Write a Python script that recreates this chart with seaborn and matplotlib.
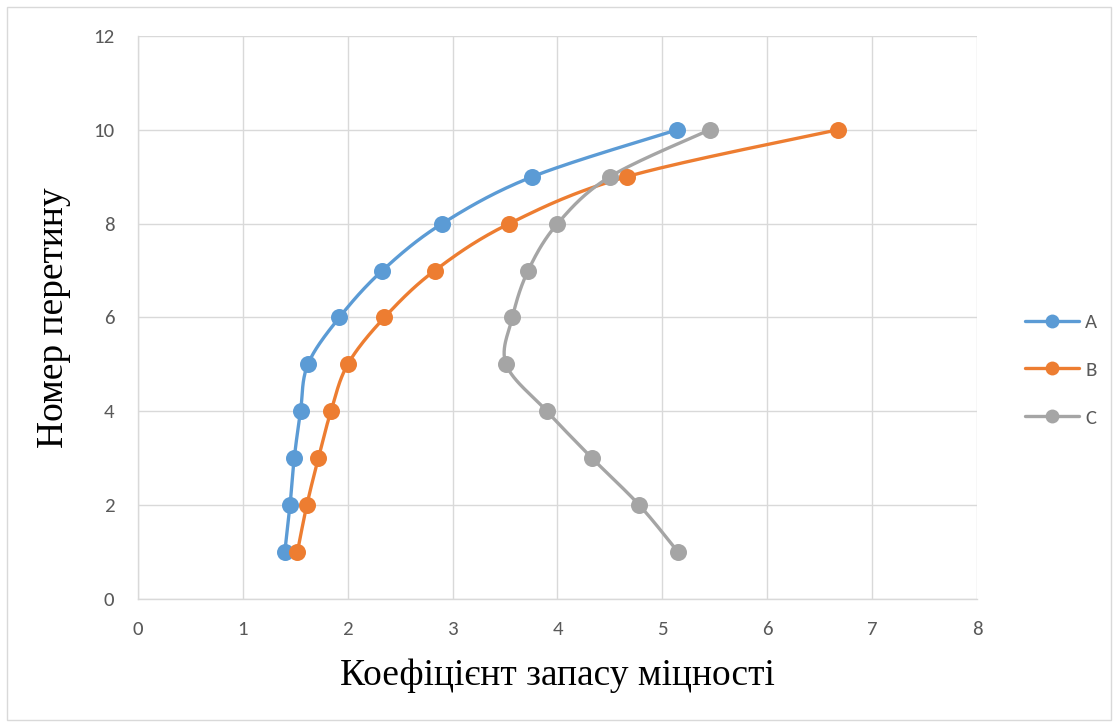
import numpy as np
import pandas as pd
import matplotlib
matplotlib.use("Agg")
import matplotlib.pyplot as plt
from matplotlib.lines import Line2D
from matplotlib.patches import Rectangle
import seaborn as sns

# Section numbers and safety factors per variant
sections = [1, 2, 3, 4, 5, 6, 7, 8, 9, 10]
factor_a = [1.40, 1.45, 1.49, 1.55, 1.62, 1.92, 2.33, 2.90, 3.76, 5.14]
factor_b = [1.52, 1.61, 1.72, 1.84, 2.00, 2.35, 2.83, 3.54, 4.66, 6.67]
factor_c = [5.15, 4.78, 4.33, 3.90, 3.51, 3.57, 3.72, 4.00, 4.50, 5.45]
series_names = ["A", "B", "C"]
colors = ["#5B9BD5", "#ED7D31", "#A5A5A5"]

x_ticks = [0, 1, 2, 3, 4, 5, 6, 7, 8]
y_ticks = [0, 2, 4, 6, 8, 10, 12]


def smooth_path(x, y, n=30, tension=0.5):
    """Catmull-Rom style smoothing through every point (like a smoothed line chart)."""
    x = np.asarray(x, float)
    y = np.asarray(y, float)
    px = np.concatenate([[x[0]], x, [x[-1]]])
    py = np.concatenate([[y[0]], y, [y[-1]]])
    xs, ys = [], []
    for i in range(1, len(px) - 2):
        p0 = np.array([px[i - 1], py[i - 1]])
        p1 = np.array([px[i], py[i]])
        p2 = np.array([px[i + 1], py[i + 1]])
        p3 = np.array([px[i + 2], py[i + 2]])
        c1 = p1 + (p2 - p0) * tension / 3
        c2 = p2 - (p3 - p1) * tension / 3
        t = np.linspace(0, 1, n)[:, None]
        b = ((1 - t) ** 3) * p1 + 3 * ((1 - t) ** 2) * t * c1 + 3 * (1 - t) * t ** 2 * c2 + t ** 3 * p2
        xs.append(b[:, 0])
        ys.append(b[:, 1])
    return np.concatenate(xs), np.concatenate(ys)


sns.set_theme(style="white")
plt.rcParams["font.family"] = ["Carlito", "Open Sans", "DejaVu Sans"]

fig = plt.figure(figsize=(11.18, 7.24), dpi=100)
fig.patches.append(Rectangle((0.006, 0.006), 0.988, 0.985, transform=fig.transFigure,
                             fill=False, edgecolor="#D9D9D9", linewidth=1.0))
ax = fig.add_axes([0.1234, 0.1727, 0.7505, 0.7776])

rows = []
for name, vals in zip(series_names, [factor_a, factor_b, factor_c]):
    for s, v in zip(sections, vals):
        rows.append({"series": name, "section": s, "factor": v})
df = pd.DataFrame(rows)

for name, color in zip(series_names, colors):
    sub = df[df["series"] == name]
    sx, sy = smooth_path(sub["factor"].values, sub["section"].values)
    curve = pd.DataFrame({"x": sx, "y": sy})
    sns.lineplot(data=curve, x="x", y="y", sort=False, estimator=None, color=color,
                 linewidth=2.4, ax=ax, zorder=3)
    sns.scatterplot(data=sub, x="factor", y="section", color=color, s=150,
                    edgecolor=color, linewidth=0, ax=ax, zorder=4)

ax.set_xlim(0, 8)
ax.set_ylim(0, 12)
ax.set_xticks(x_ticks)
ax.set_yticks(y_ticks)
ax.grid(True, color="#D9D9D9", linewidth=1.0)
ax.set_axisbelow(True)
for side in ["top", "right"]:
    ax.spines[side].set_visible(False)
for side in ["left", "bottom"]:
    ax.spines[side].set_color("#D9D9D9")
    ax.spines[side].set_linewidth(1.0)
ax.tick_params(axis="both", length=0, labelsize=15, labelcolor="#595959")
ax.tick_params(axis="y", pad=17)
ax.tick_params(axis="x", pad=16)

label_font = dict(family=["Liberation Serif", "DejaVu Serif"], size=27, color="black")
ax.set_xlabel("Коефіцієнт запасу міцності", fontdict=label_font)
ax.set_ylabel("Номер перетину", fontdict=label_font)
ax.xaxis.set_label_coords(0.5, -0.105)
ax.yaxis.set_label_coords(-0.080, 0.5)

handles = [Line2D([0], [0], color=c, linewidth=2.4, marker="o", markersize=10,
                  markeredgewidth=0) for c in colors]
fig.legend(handles, series_names, loc="center left", bbox_to_anchor=(0.900, 0.489),
           frameon=False, fontsize=15, labelcolor="#595959", handlelength=2.6,
           labelspacing=1.45, handletextpad=0.3)

fig.savefig("out.png", dpi=100, facecolor="white")
